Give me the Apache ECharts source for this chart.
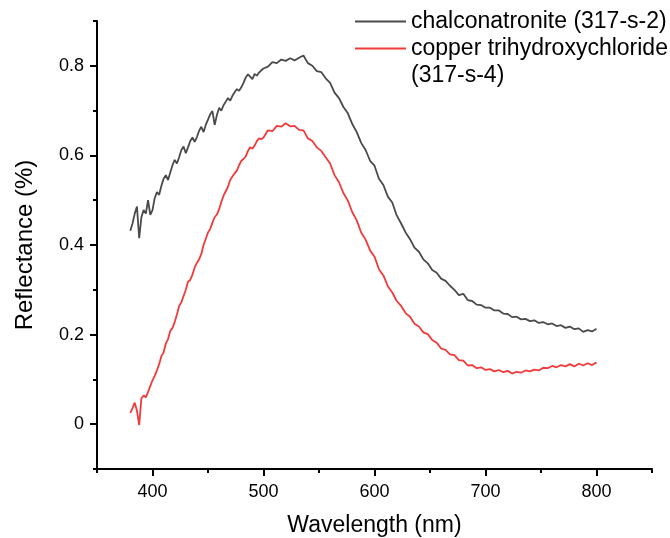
<!DOCTYPE html>
<html>
<head>
<meta charset="utf-8">
<script src="https://cdn.jsdelivr.net/npm/echarts@6/dist/echarts.min.js"></script>
<style>
html,body{margin:0;padding:0;background:#fff;}
#chart{width:670px;height:538px;}
</style>
</head>
<body>
<div id="chart"></div>
<script>
// ---- data ----
const wavelengths = [380,382,384,386,388,390,392,394,396,398,400,402,404,406,408,410,412,414,416,418,420,422,424,426,428,430,432,434,436,438,440,442,444,446,448,450,452,454,456,458,460,462,464,466,468,470,472,474,476,478,480,482,484,486,488,490,492,494,496,498,500,504,508,512,516,520,524,528,532,536,540,544,548,552,556,560,564,568,572,576,580,584,588,592,596,600,604,608,612,616,620,624,628,632,636,640,644,648,652,656,660,664,668,672,676,680,684,688,692,696,700,704,708,712,716,720,724,728,732,736,740,744,748,752,756,760,764,768,772,776,780,784,788,792,796,800];
const chalconatronite = [0.432,0.448,0.470,0.486,0.415,0.462,0.478,0.470,0.500,0.467,0.478,0.505,0.518,0.512,0.532,0.548,0.556,0.545,0.562,0.578,0.590,0.582,0.596,0.612,0.620,0.605,0.618,0.632,0.640,0.630,0.641,0.655,0.664,0.652,0.668,0.680,0.692,0.699,0.668,0.690,0.706,0.700,0.712,0.720,0.728,0.722,0.733,0.741,0.748,0.744,0.752,0.762,0.774,0.781,0.776,0.770,0.782,0.778,0.785,0.790,0.794,0.798,0.808,0.806,0.814,0.811,0.817,0.812,0.818,0.823,0.806,0.800,0.788,0.786,0.772,0.762,0.740,0.728,0.708,0.694,0.670,0.652,0.628,0.612,0.588,0.577,0.548,0.534,0.508,0.495,0.466,0.448,0.428,0.413,0.394,0.385,0.368,0.359,0.344,0.338,0.325,0.320,0.309,0.300,0.288,0.291,0.277,0.275,0.267,0.266,0.260,0.260,0.254,0.254,0.247,0.246,0.239,0.240,0.234,0.235,0.230,0.232,0.226,0.228,0.223,0.225,0.219,0.221,0.215,0.218,0.212,0.214,0.206,0.210,0.207,0.213];
const copperTrihydroxychloride = [0.025,0.036,0.048,0.030,-0.002,0.058,0.064,0.060,0.072,0.085,0.098,0.108,0.120,0.134,0.152,0.160,0.180,0.190,0.208,0.215,0.228,0.245,0.264,0.272,0.286,0.300,0.318,0.322,0.334,0.350,0.360,0.368,0.380,0.400,0.414,0.428,0.436,0.450,0.462,0.468,0.480,0.496,0.510,0.520,0.530,0.545,0.553,0.560,0.566,0.578,0.588,0.592,0.598,0.610,0.618,0.615,0.622,0.632,0.638,0.636,0.640,0.656,0.654,0.666,0.664,0.672,0.665,0.666,0.657,0.656,0.638,0.632,0.618,0.610,0.596,0.582,0.556,0.540,0.516,0.499,0.473,0.455,0.428,0.412,0.388,0.374,0.346,0.332,0.308,0.294,0.275,0.264,0.248,0.240,0.224,0.218,0.205,0.201,0.188,0.182,0.169,0.166,0.156,0.154,0.143,0.142,0.131,0.132,0.125,0.127,0.121,0.123,0.118,0.121,0.116,0.119,0.113,0.117,0.115,0.120,0.118,0.122,0.120,0.126,0.125,0.130,0.127,0.132,0.129,0.134,0.129,0.135,0.131,0.136,0.132,0.138];
const seriesNames = ['chalconatronite (317-s-2)', 'copper trihydroxychloride\n(317-s-4)'];
const xMajorTicks = [400,500,600,700,800];
const xMinorTicks = [350,450,550,650,750,850];
const yMajorTicks = [0,0.2,0.4,0.6,0.8];
const yTickLabels = ['0','0.2','0.4','0.6','0.8'];
const yMinorTicks = [-0.1,0.1,0.3,0.5,0.7,0.9];

// ---- chart ----
const FONT = 'Liberation Sans, Arial, sans-serif';
const chart = echarts.init(document.getElementById('chart'), null, {renderer:'canvas'});
const axisLineStyle = {color:'#000', width:2};
chart.setOption({
  animation:false,
  backgroundColor:'#fff',
  grid:{left:97, right:18, top:21, bottom:69, containLabel:false, outerBoundsMode:'none'},
  legend:{
    orient:'vertical', left:354, top:8, padding:0,
    itemWidth:51, itemHeight:14, itemGap:-27,
    itemStyle:{opacity:0},
    textStyle:{fontSize:23, fontFamily:FONT, color:'#000', lineHeight:27},
    formatter:function(name){ return name === seriesNames[1] ? '\n' + name : name; },
    data:seriesNames
  },
  xAxis:[{
    type:'value', min:350, max:850, position:'bottom',
    name:'Wavelength (nm)', nameLocation:'middle', nameGap:45,
    nameTextStyle:{fontSize:23, fontFamily:FONT, color:'#000'},
    axisLine:{show:true, onZero:false, lineStyle:axisLineStyle},
    axisTick:{show:true, inside:false, length:7, lineStyle:axisLineStyle, customValues:xMajorTicks},
    axisLabel:{fontSize:18, fontFamily:FONT, color:'#000', margin:14, customValues:xMajorTicks},
    splitLine:{show:false}
  },{
    type:'value', min:350, max:850, position:'bottom', offset:0,
    axisLine:{show:false, onZero:false},
    axisTick:{show:true, inside:false, length:4, lineStyle:axisLineStyle, customValues:xMinorTicks},
    axisLabel:{show:false},
    splitLine:{show:false}
  }],
  yAxis:[{
    type:'value', min:-0.1, max:0.9, position:'left',
    name:'Reflectance (%)', nameLocation:'middle', nameGap:60,
    nameTextStyle:{fontSize:24, fontFamily:FONT, color:'#000'},
    axisLine:{show:true, onZero:false, lineStyle:axisLineStyle},
    axisTick:{show:true, inside:false, length:7, lineStyle:axisLineStyle, customValues:yMajorTicks},
    axisLabel:{fontSize:18, fontFamily:FONT, color:'#000', margin:13, customValues:yMajorTicks,
      formatter:function(v){ const i = yMajorTicks.findIndex(t => Math.abs(t - v) < 1e-6); return i >= 0 ? yTickLabels[i] : ''; }},
    splitLine:{show:false}
  },{
    type:'value', min:-0.1, max:0.9, position:'left', offset:0,
    axisLine:{show:false, onZero:false},
    axisTick:{show:true, inside:false, length:4, lineStyle:axisLineStyle, customValues:yMinorTicks},
    axisLabel:{show:false},
    splitLine:{show:false}
  }],
  series:[{
    name:seriesNames[0], type:'line', xAxisIndex:0, yAxisIndex:0,
    symbol:'none', showSymbol:false,
    lineStyle:{color:'#4a4a4a', width:1.8}, itemStyle:{color:'#4a4a4a'},
    data:wavelengths.map((w,i) => [w, chalconatronite[i]])
  },{
    name:seriesNames[1], type:'line', xAxisIndex:0, yAxisIndex:0,
    symbol:'none', showSymbol:false,
    lineStyle:{color:'#f23a3a', width:1.8}, itemStyle:{color:'#f23a3a'},
    data:wavelengths.map((w,i) => [w, copperTrihydroxychloride[i]])
  }]
});
</script>
</body>
</html>
